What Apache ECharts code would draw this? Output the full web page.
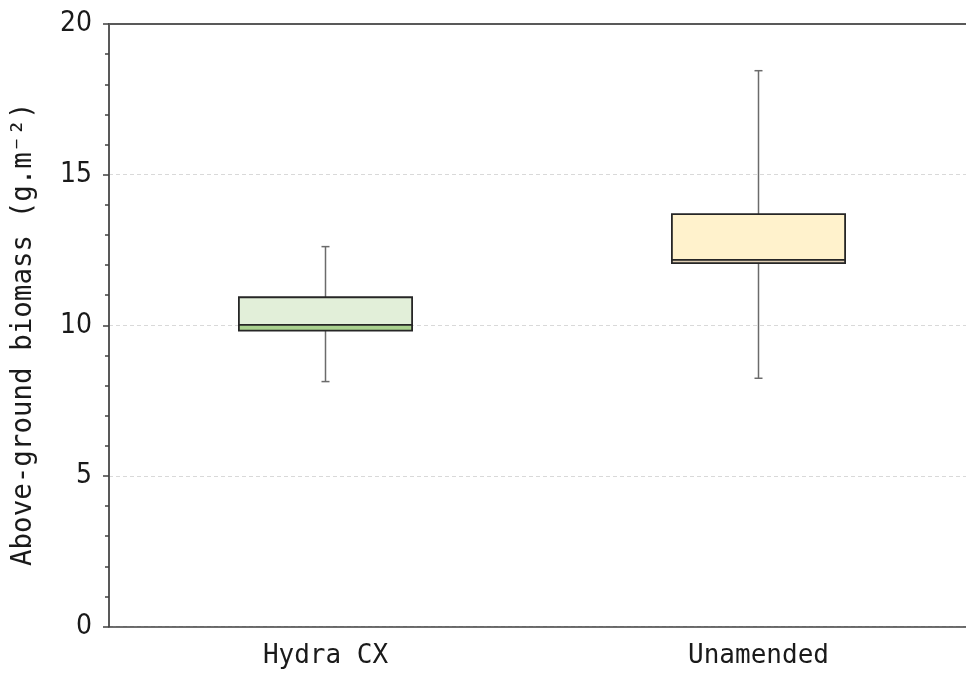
<!DOCTYPE html>
<html>
<head>
<meta charset="utf-8">
<title>Above-ground biomass</title>
<script src="https://cdn.jsdelivr.net/npm/echarts@6/dist/echarts.min.js"></script>
<style>
  html, body { margin: 0; padding: 0; background: #ffffff; }
  #chart { width: 966px; height: 678px; }
</style>
</head>
<body>
<div id="chart"></div>
<script>
// Treatments on the category axis
const categories = ['Hydra CX', 'Unamended'];

// Five-number summaries per treatment (g.m-2)
const whiskerLow  = [8.13, 8.24];
const quartile1   = [9.82, 12.06];
const medians     = [10.01, 12.17];
const quartile3   = [10.93, 13.69];
const whiskerHigh = [12.61, 18.45];

// Value-axis range and step
const yMin = 0;
const yMax = 20;
const yStep = 5;

// Fill colours: upper half (median to Q3) and lower half (Q1 to median)
const upperFill = ['#e2efd9', '#fff2cc'];
const lowerFill = ['#a9d18e', '#dfceb4'];

const boxData = categories.map((c, i) => [
  i, whiskerLow[i], quartile1[i], medians[i], quartile3[i], whiskerHigh[i]
]);

const monoFont = "'DejaVu Sans Mono', 'Liberation Mono', monospace";
const numFont = "'DejaVu Sans Condensed', 'DejaVu Sans', sans-serif";

function renderBox(params, api) {
  const idx = api.value(0);
  const pLow  = api.coord([idx, api.value(1)]);
  const pQ1   = api.coord([idx, api.value(2)]);
  const pMed  = api.coord([idx, api.value(3)]);
  const pQ3   = api.coord([idx, api.value(4)]);
  const pHigh = api.coord([idx, api.value(5)]);
  const band = api.size([1, 0])[0];
  const half = band * 0.2;
  const cx = pLow[0];
  const cap = 4;
  const whiskerStyle = { stroke: '#6b6b6b', lineWidth: 1.5 };
  const edge = { stroke: '#262626', lineWidth: 1.8 };
  return {
    type: 'group',
    children: [
      { type: 'line', shape: { x1: cx, y1: pHigh[1], x2: cx, y2: pQ3[1] }, style: whiskerStyle },
      { type: 'line', shape: { x1: cx, y1: pQ1[1], x2: cx, y2: pLow[1] }, style: whiskerStyle },
      { type: 'line', shape: { x1: cx - cap, y1: pHigh[1], x2: cx + cap, y2: pHigh[1] }, style: whiskerStyle },
      { type: 'line', shape: { x1: cx - cap, y1: pLow[1], x2: cx + cap, y2: pLow[1] }, style: whiskerStyle },
      { type: 'rect', shape: { x: cx - half, y: pQ3[1], width: half * 2, height: pMed[1] - pQ3[1] },
        style: { fill: upperFill[idx] } },
      { type: 'rect', shape: { x: cx - half, y: pMed[1], width: half * 2, height: pQ1[1] - pMed[1] },
        style: { fill: lowerFill[idx] } },
      { type: 'rect', shape: { x: cx - half, y: pQ3[1], width: half * 2, height: pQ1[1] - pQ3[1] },
        style: Object.assign({ fill: null }, edge) },
      { type: 'line', shape: { x1: cx - half, y1: pMed[1], x2: cx + half, y2: pMed[1] }, style: edge }
    ]
  };
}

const chart = echarts.init(document.getElementById('chart'), null, { renderer: 'canvas' });

chart.setOption({
  animation: false,
  backgroundColor: '#ffffff',
  grid: { left: 109, top: 24, width: 866, height: 602.5, outerBoundsMode: 'none', containLabel: false },
  xAxis: [
    {
      type: 'category',
      data: categories,
      position: 'bottom',
      axisLine: { show: true, lineStyle: { color: '#404040', width: 1.5 } },
      axisTick: { show: false },
      axisLabel: { color: '#1a1a1a', fontFamily: monoFont, fontSize: 26, margin: 17 },
      splitLine: { show: false }
    },
    {
      type: 'category',
      data: categories,
      position: 'top',
      axisLine: { show: true, onZero: false, lineStyle: { color: '#595959', width: 2 } },
      axisTick: { show: false },
      axisLabel: { show: false },
      splitLine: { show: false }
    }
  ],
  yAxis: {
    type: 'value',
    min: yMin,
    max: yMax,
    interval: yStep,
    name: 'Above-ground biomass (g.m⁻²)',
    nameLocation: 'middle',
    nameRotate: 90,
    nameGap: 71,
    nameTextStyle: { color: '#1a1a1a', fontFamily: monoFont, fontSize: 27.5, padding: [0, 18, 0, 0] },
    axisLine: { show: true, lineStyle: { color: '#595959', width: 2 } },
    axisTick: { show: true, length: 6, lineStyle: { color: '#404040', width: 1.5 } },
    minorTick: { show: true, splitNumber: 5, length: 4, lineStyle: { color: '#404040', width: 1.5 } },
    axisLabel: { color: '#1a1a1a', fontFamily: numFont, fontSize: 28, margin: 17 },
    splitLine: { show: true, lineStyle: { color: '#d9d9d9', type: [4, 3], width: 1 } }
  },
  series: [
    {
      type: 'custom',
      name: 'Biomass',
      renderItem: renderBox,
      encode: { x: 0, y: [1, 2, 3, 4, 5] },
      data: boxData,
      z: 3
    }
  ]
});
</script>
</body>
</html>
